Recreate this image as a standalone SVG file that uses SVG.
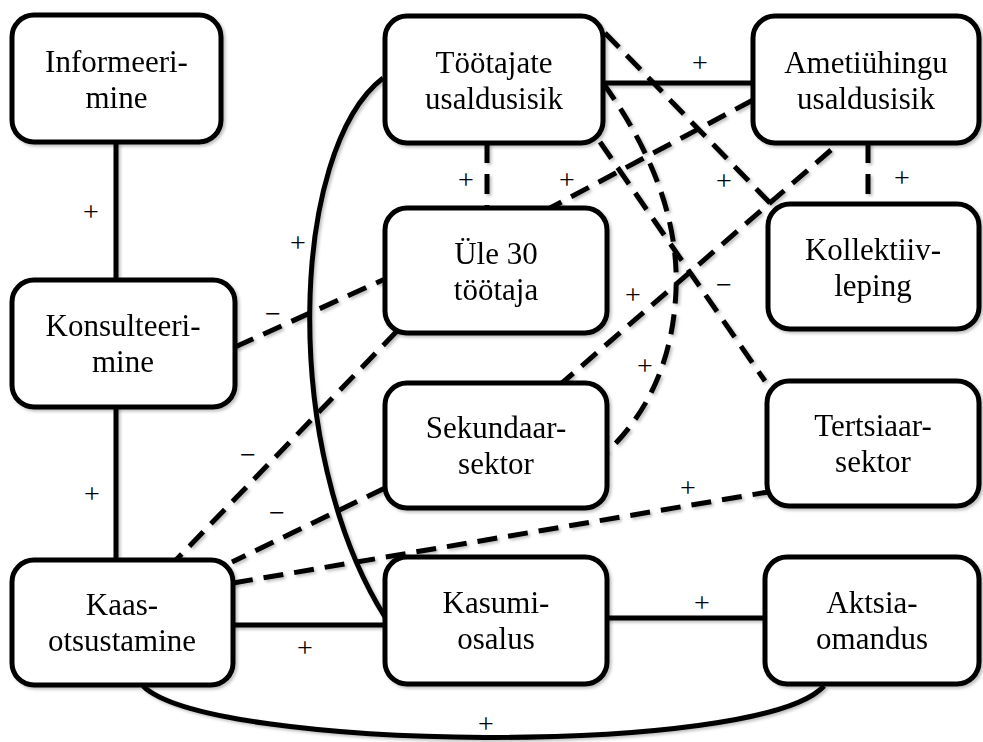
<svg xmlns="http://www.w3.org/2000/svg" width="983" height="742" viewBox="0 0 983 742">
<style>
.box{fill:#fff;stroke:#000;stroke-width:5}
.t{font-family:"Liberation Serif","Times New Roman",serif;font-size:31px;text-anchor:middle;fill:#000}
.l{font-family:"Liberation Serif","Times New Roman",serif;font-size:28px;text-anchor:middle;fill:#000}
.s{fill:none;stroke:#000;stroke-width:5}
.d{fill:none;stroke:#000;stroke-width:5;stroke-dasharray:20 11}
</style>
<defs>
<filter id="sh" x="-10%" y="-10%" width="120%" height="120%">
<feDropShadow dx="2" dy="2" stdDeviation="1.5" flood-color="#000" flood-opacity="0.25"/>
</filter>
</defs>
<rect width="983" height="742" fill="#fff"/>
<g id="connectors" filter="url(#sh)">
<path class="s" d="M116,142 V280"/>
<path class="s" d="M116,407 V560"/>
<path class="s" d="M233,625 H385"/>
<path class="s" d="M607,618 H765"/>
<path class="s" d="M143,686 C210,752 760,757 824,686"/>
<path class="s" d="M603,83 H753"/>
<path class="s" d="M383,78 C290,150 280,450 385,617"/>
<path class="d" d="M487,143 V208"/>
<path class="d" d="M868,143 V204"/>
<path class="d" d="M753,100 L550,208"/>
<path class="d" d="M605,33 L771,204"/>
<path class="d" d="M831,150 L562,383"/>
<path class="d" d="M603,83 Q680,190 676,290 Q672,390 607,452"/>
<path class="d" d="M600,142 L765,381"/>
<path class="d" d="M235,347 L385,279"/>
<path class="d" d="M397,331 L176,560"/>
<path class="d" d="M385,488 L232,562"/>
<path class="d" d="M233,583 L768,492"/>
</g>
<g id="labels">
<text class="l" x="91" y="221">+</text>
<text class="l" x="92" y="503">+</text>
<text class="l" x="305" y="657">+</text>
<text class="l" x="702" y="612">+</text>
<text class="l" x="486" y="733">+</text>
<text class="l" x="298" y="252">+</text>
<text class="l" x="700" y="72">+</text>
<text class="l" x="466" y="189">+</text>
<text class="l" x="567" y="189">+</text>
<text class="l" x="724" y="190">+</text>
<text class="l" x="902" y="187">+</text>
<text class="l" x="633" y="304">+</text>
<text class="l" x="645" y="375">+</text>
<text class="l" x="724" y="294">−</text>
<text class="l" x="273" y="323">−</text>
<text class="l" x="248" y="464">−</text>
<text class="l" x="277" y="522">−</text>
<text class="l" x="688" y="497">+</text>
</g>
<g id="informeerimine" filter="url(#sh)"><rect class="box" x="12" y="15" width="209" height="127" rx="22"/><text class="t" x="116.5" y="72">Informeeri-</text><text class="t" x="116.5" y="108">mine</text></g>
<g id="tootajate" filter="url(#sh)"><rect class="box" x="385" y="16" width="218" height="127" rx="22"/><text class="t" x="494" y="73">Töötajate</text><text class="t" x="494" y="109">usaldusisik</text></g>
<g id="ametiuhingu" filter="url(#sh)"><rect class="box" x="753" y="16" width="226" height="127" rx="22"/><text class="t" x="866" y="73">Ametiühingu</text><text class="t" x="866" y="109">usaldusisik</text></g>
<g id="ule30" filter="url(#sh)"><rect class="box" x="385" y="208" width="222" height="125" rx="22"/><text class="t" x="496" y="264">Üle 30</text><text class="t" x="496" y="300">töötaja</text></g>
<g id="kollektiivleping" filter="url(#sh)"><rect class="box" x="768" y="204" width="211" height="125" rx="22"/><text class="t" x="873" y="260">Kollektiiv-</text><text class="t" x="873" y="296">leping</text></g>
<g id="konsulteerimine" filter="url(#sh)"><rect class="box" x="12" y="280" width="223" height="127" rx="22"/><text class="t" x="123" y="336">Konsulteeri-</text><text class="t" x="123" y="372">mine</text></g>
<g id="sekundaarsektor" filter="url(#sh)"><rect class="box" x="385" y="383" width="222" height="125" rx="22"/><text class="t" x="496" y="438">Sekundaar-</text><text class="t" x="496" y="474">sektor</text></g>
<g id="tertsiaarsektor" filter="url(#sh)"><rect class="box" x="767" y="381" width="212" height="125" rx="22"/><text class="t" x="873" y="436">Tertsiaar-</text><text class="t" x="873" y="472">sektor</text></g>
<g id="kaasotsustamine" filter="url(#sh)"><rect class="box" x="12" y="560" width="221" height="125" rx="22"/><text class="t" x="122" y="615">Kaas-</text><text class="t" x="122" y="651">otsustamine</text></g>
<g id="kasumiosalus" filter="url(#sh)"><rect class="box" x="385" y="557" width="222" height="127" rx="22"/><text class="t" x="496" y="613">Kasumi-</text><text class="t" x="496" y="649">osalus</text></g>
<g id="aktsiaomandus" filter="url(#sh)"><rect class="box" x="765" y="557" width="214" height="127" rx="22"/><text class="t" x="872" y="613">Aktsia-</text><text class="t" x="872" y="649">omandus</text></g>
</svg>
